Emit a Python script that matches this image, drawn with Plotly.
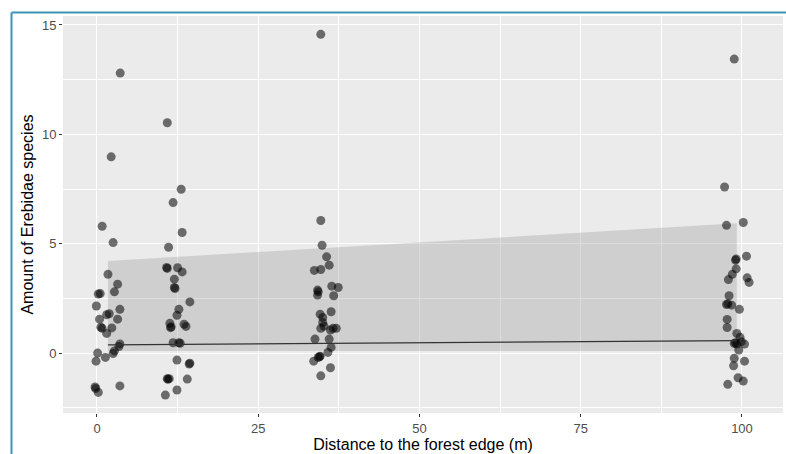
import plotly.graph_objects as go

# ---- data ----
c1_x = [3.6, 2.2, 0.8, 2.5, 1.7, 3.2, 0.2, 0.5, 2.7, -0.1, 3.55, 1.9, 1.5, 0.4, 3.2,
        0.6, 0.8, 2.3, 1.5, 3.55, 3.4, 2.7, 2.5, 0.1, 1.3, -0.15, -0.3, -0.2, 0.2, 3.55]
c1_y = [12.8, 8.97, 5.8, 5.05, 3.6, 3.15, 2.7, 2.72, 2.8, 2.15, 2.0, 1.8, 1.75, 1.55, 1.55,
        1.18, 1.13, 1.15, 0.9, 0.42, 0.3, 0.1, -0.02, 0.0, -0.2, -0.37, -1.55, -1.62, -1.8, -1.5]

c2_x = [10.9, 13.05, 11.8, 13.2, 11.1, 10.8, 10.9, 12.5, 13.2, 12.0, 12.0, 12.1, 14.4, 12.7,
        12.4, 11.3, 11.4, 11.5, 13.5, 13.8, 11.8, 12.7, 12.9, 12.4, 14.4, 14.3, 10.9, 11.2,
        11.0, 14.0, 12.4, 10.6]
c2_y = [10.53, 7.49, 6.88, 5.51, 4.84, 3.91, 3.87, 3.9, 3.71, 3.38, 3.0, 2.95, 2.34, 2.0,
        1.73, 1.36, 1.16, 1.2, 1.32, 1.22, 0.47, 0.47, 0.45, -0.32, -0.46, -0.5, -1.17, -1.17,
        -1.2, -1.19, -1.69, -1.92]

c3_x = [34.7, 34.7, 34.9, 35.6, 36.0, 33.7, 34.7, 34.2, 34.3, 34.2, 36.4, 37.4, 36.7, 36.3,
        34.6, 35.0, 34.7, 35.2, 35.0, 36.2, 36.6, 37.1, 33.8, 36.0, 36.3, 35.8, 34.6, 34.3,
        34.5, 33.6, 36.2, 34.7]
c3_y = [14.57, 6.06, 4.93, 4.4, 4.02, 3.78, 3.82, 2.88, 2.8, 2.65, 3.06, 3.0, 2.62, 1.89,
        1.78, 1.63, 1.13, 1.23, 1.4, 1.05, 1.13, 1.13, 0.64, 0.64, 0.26, 0.03, -0.14, -0.2,
        -0.17, -0.37, -0.67, -1.04]

c4_x = [98.8, 97.3, 97.6, 100.2, 99.0, 99.1, 100.7, 99.1, 98.5, 97.9, 100.8, 101.1, 98.0,
        97.6, 97.8, 98.4, 99.6, 97.7, 97.7, 99.2, 99.7, 98.8, 99.0, 99.2, 99.9, 100.4, 99.5,
        98.8, 100.4, 98.7, 99.4, 100.2, 97.8]
c4_y = [13.44, 7.59, 5.84, 5.97, 4.25, 4.3, 4.43, 3.85, 3.6, 3.36, 3.44, 3.23, 2.62,
        2.22, 2.25, 2.19, 2.0, 1.54, 1.17, 0.9, 0.72, 0.44, 0.47, 0.41, 0.52, 0.41, 0.14,
        -0.24, -0.37, -0.58, -1.13, -1.28, -1.43]

fit_x = [1.7, 99.2]
fit_y = [0.37, 0.57]
fit_lower = [0.09, 0.09]
fit_upper = [4.21, 5.93]

x_ticks = [0, 25, 50, 75, 100]
y_ticks = [0, 5, 10, 15]

distance = c1_x + c2_x + c3_x + c4_x
amount = c1_y + c2_y + c3_y + c4_y

FONT = "Liberation Sans, Arial, sans-serif"

fig = go.Figure()

# confidence ribbon
fig.add_trace(go.Scatter(
    x=fit_x + fit_x[::-1], y=fit_upper + fit_lower[::-1],
    fill="toself", fillcolor="rgba(153,153,153,0.33)",
    line=dict(width=0), mode="lines", hoverinfo="skip", showlegend=False))

# jittered points
fig.add_trace(go.Scatter(
    x=distance, y=amount, mode="markers",
    marker=dict(size=9, color="rgba(0,0,0,0.55)", line=dict(width=0)),
    showlegend=False))

# fitted line
fig.add_trace(go.Scatter(
    x=fit_x, y=fit_y, mode="lines",
    line=dict(color="#333333", width=1.3), showlegend=False))

axis_common = dict(
    showline=False, zeroline=False,
    gridcolor="#FFFFFF", gridwidth=1.1,
    ticks="outside", ticklen=3, tickcolor="#333333", tickwidth=1,
    tickfont=dict(family=FONT, size=13, color="#4D4D4D"),
)

fig.update_xaxes(
    range=[-5.27, 106.36], tickvals=x_ticks, ticktext=[str(v) for v in x_ticks],
    minor=dict(showgrid=True, gridcolor="#FFFFFF", gridwidth=0.5, dtick=12.5, tick0=0, ticks=""),
    title=dict(text="Distance to the forest edge (m)", standoff=1,
               font=dict(family=FONT, size=16, color="#000000")),
    **axis_common)
fig.update_yaxes(
    range=[-2.74, 15.41], tickvals=y_ticks, ticktext=[str(v) for v in y_ticks],
    minor=dict(showgrid=True, gridcolor="#FFFFFF", gridwidth=0.5, dtick=2.5, tick0=0, ticks=""),
    title=dict(text="Amount of Erebidae species", standoff=4,
               font=dict(family=FONT, size=16, color="#000000")),
    **axis_common)

# blue frame of the screenshot
fig.add_shape(type="line", xref="paper", yref="paper",
              x0=(11.5 - 63) / 720, x1=(786 - 63) / 720,
              y0=(413 - 12.5) / 397, y1=(413 - 12.5) / 397,
              line=dict(color="#3D93B8", width=2))
fig.add_shape(type="line", xref="paper", yref="paper",
              x0=(11.5 - 63) / 720, x1=(11.5 - 63) / 720,
              y0=(413 - 12.5) / 397, y1=(413 - 454) / 397,
              line=dict(color="#3D93B8", width=2))

fig.update_layout(
    width=786, height=454,
    margin=dict(l=63, r=3, t=16, b=41),
    plot_bgcolor="#EBEBEB", paper_bgcolor="#FFFFFF",
    font=dict(family=FONT),
)

fig.write_html(
    "out.html",
    config={"displayModeBar": False},
    post_script="document.body.style.margin='0px';document.body.style.overflow='hidden';",
)
